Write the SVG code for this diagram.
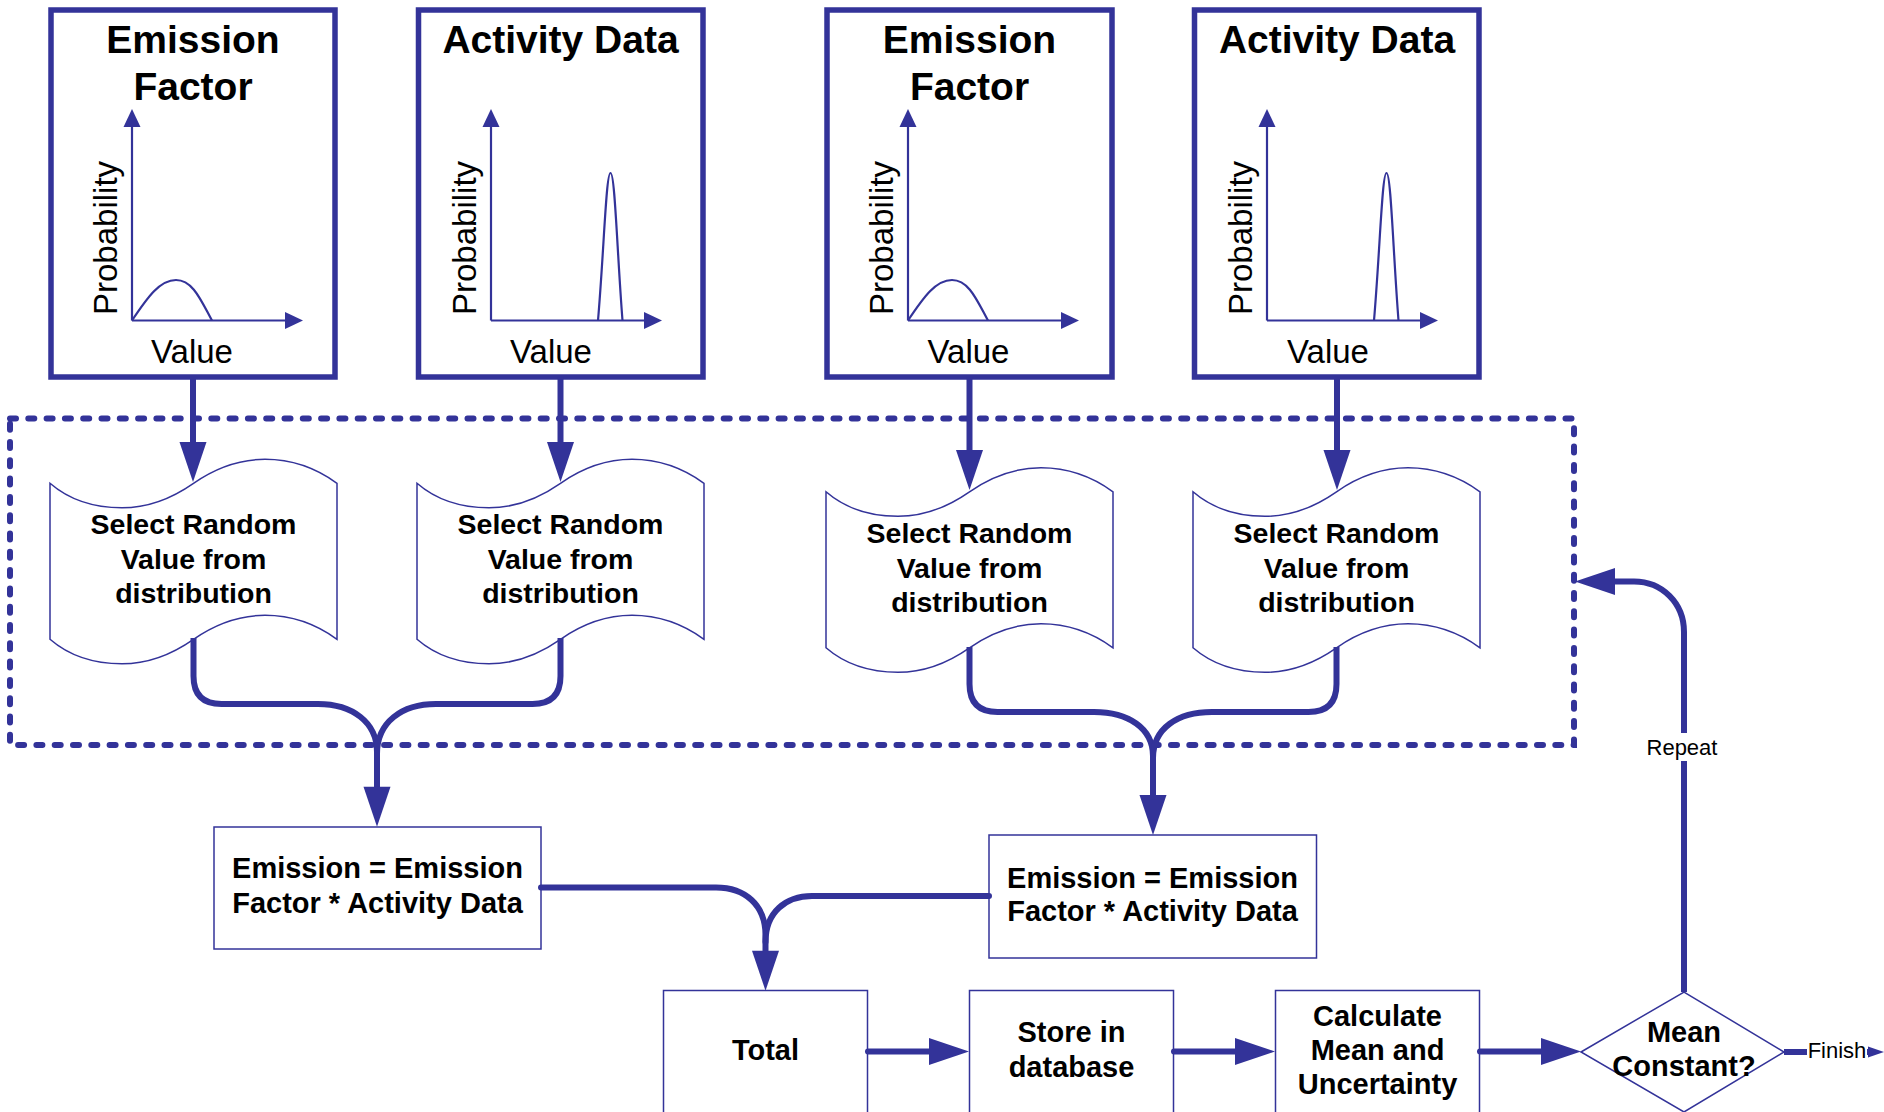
<svg xmlns="http://www.w3.org/2000/svg" xmlns:xlink="http://www.w3.org/1999/xlink" width="1884" height="1112" viewBox="0 0 1884 1112">
<style>
.frame{fill:#fff;stroke:#333399;stroke-width:5.5}
.box{fill:#fff;stroke:#333399;stroke-width:1.5}
.axis{fill:none;stroke:#333399;stroke-width:2.2}
.curve{fill:none;stroke:#333399;stroke-width:2.2}
.conn{fill:none;stroke:#333399;stroke-width:6}
.dash{fill:none;stroke:#333399;stroke-width:6;stroke-dasharray:6 12.3;stroke-linecap:round}
.title{font-family:"Liberation Sans",Arial,sans-serif;font-weight:bold;font-size:39px;text-anchor:middle;fill:#000}
.lbl{font-family:"Liberation Sans",Arial,sans-serif;font-weight:bold;font-size:29px;text-anchor:middle;fill:#000}
.doct{font-family:"Liberation Sans",Arial,sans-serif;font-weight:bold;font-size:28.5px;text-anchor:middle;fill:#000}
.ax{font-family:"Liberation Sans",Arial,sans-serif;font-size:33px;fill:#000}
.small{font-family:"Liberation Sans",Arial,sans-serif;font-size:22px;fill:#000}
</style>
<defs>
<marker id="big" markerUnits="userSpaceOnUse" markerWidth="40" markerHeight="27" refX="20" refY="13.5" orient="auto" overflow="visible">
<path d="M0,0 L40,13.5 L0,27 Z" fill="#333399"/>
</marker>
<marker id="axarr" markerUnits="userSpaceOnUse" markerWidth="18" markerHeight="17" refX="9" refY="8.5" orient="auto" overflow="visible">
<path d="M0,0 L18,8.5 L0,17 Z" fill="#333399"/>
</marker>
<marker id="tiny" markerUnits="userSpaceOnUse" markerWidth="16" markerHeight="11" refX="4" refY="5.5" orient="auto" overflow="visible">
<path d="M0,0 L16,5.5 L0,11 Z" fill="#333399"/>
</marker>
<path id="doc" d="M0,0 C22,19 48,24.5 72,24.5 C100,24.5 122,15 143.5,0 C165,-15 188,-24 215,-24 C240,-24 265,-16 287,0 V156 C265,140 240,132 215,132 C188,132 165,141 143.5,156 C122,171 100,180.5 72,180.5 C48,180.5 22,175 0,156 Z" fill="#fff" stroke="#333399" stroke-width="1.5"/>
<path id="bell" d="M0,0 C16,-24 28,-40.5 44,-40.5 C61,-40.5 69,-20 80,0" class="curve"/>
<path id="spike" d="M0,0 C6,-70 8,-147.5 12.5,-147.5 C17,-147.5 19,-70 24.5,0" class="curve"/>
</defs>
<rect x="0" y="0" width="1884" height="1112" fill="#fff"/>

<g id="loop-boundary">
<rect class="dash" x="10" y="418.5" width="1564" height="326.5"/>
</g>

<g id="ef1">
<rect class="frame" x="51" y="10" width="284" height="367"/>
<text class="title" x="193" y="53">Emission</text>
<text class="title" x="193" y="100">Factor</text>
<use xlink:href="#bell" x="132" y="320.5"/>
<path class="axis" d="M132,320.5 V118" marker-end="url(#axarr)"/>
<path class="axis" d="M132,320.5 H294" marker-end="url(#axarr)"/>
<text class="ax" transform="translate(117,315) rotate(-90)">Probability</text>
<text class="ax" x="192" y="363" text-anchor="middle">Value</text>
</g>

<g id="ad1">
<rect class="frame" x="418.5" y="10" width="284.5" height="367"/>
<text class="title" x="560.5" y="53">Activity Data</text>
<use xlink:href="#spike" x="598" y="320.5"/>
<path class="axis" d="M491,320.5 V118" marker-end="url(#axarr)"/>
<path class="axis" d="M491,320.5 H653" marker-end="url(#axarr)"/>
<text class="ax" transform="translate(476,315) rotate(-90)">Probability</text>
<text class="ax" x="551" y="363" text-anchor="middle">Value</text>
</g>

<g id="ef2">
<rect class="frame" x="827" y="10" width="285" height="367"/>
<text class="title" x="969.5" y="53">Emission</text>
<text class="title" x="969.5" y="100">Factor</text>
<use xlink:href="#bell" x="908" y="320.5"/>
<path class="axis" d="M908,320.5 V118" marker-end="url(#axarr)"/>
<path class="axis" d="M908,320.5 H1070" marker-end="url(#axarr)"/>
<text class="ax" transform="translate(893,315) rotate(-90)">Probability</text>
<text class="ax" x="968.5" y="363" text-anchor="middle">Value</text>
</g>

<g id="ad2">
<rect class="frame" x="1194.5" y="10" width="284.5" height="367"/>
<text class="title" x="1337" y="53">Activity Data</text>
<use xlink:href="#spike" x="1374" y="320.5"/>
<path class="axis" d="M1267,320.5 V118" marker-end="url(#axarr)"/>
<path class="axis" d="M1267,320.5 H1429" marker-end="url(#axarr)"/>
<text class="ax" transform="translate(1252,315) rotate(-90)">Probability</text>
<text class="ax" x="1328" y="363" text-anchor="middle">Value</text>
</g>

<g id="sel1">
<use xlink:href="#doc" x="50" y="483.3"/>
<text class="doct" x="193.5" y="534">Select Random</text>
<text class="doct" x="193.5" y="568.5">Value from</text>
<text class="doct" x="193.5" y="603">distribution</text>
</g>
<g id="sel2">
<use xlink:href="#doc" x="417" y="483.3"/>
<text class="doct" x="560.5" y="534">Select Random</text>
<text class="doct" x="560.5" y="568.5">Value from</text>
<text class="doct" x="560.5" y="603">distribution</text>
</g>
<g id="sel3">
<use xlink:href="#doc" x="826" y="491.8"/>
<text class="doct" x="969.5" y="543">Select Random</text>
<text class="doct" x="969.5" y="577.5">Value from</text>
<text class="doct" x="969.5" y="612">distribution</text>
</g>
<g id="sel4">
<use xlink:href="#doc" x="1193" y="491.8"/>
<text class="doct" x="1336.5" y="543">Select Random</text>
<text class="doct" x="1336.5" y="577.5">Value from</text>
<text class="doct" x="1336.5" y="612">distribution</text>
</g>

<g id="calc1">
<rect class="box" x="214" y="827" width="327" height="122"/>
<text class="lbl" x="377.5" y="878">Emission = Emission</text>
<text class="lbl" x="377.5" y="913">Factor * Activity Data</text>
</g>
<g id="calc2">
<rect class="box" x="989" y="835" width="327.5" height="123"/>
<text class="lbl" x="1152.5" y="887.5">Emission = Emission</text>
<text class="lbl" x="1152.5" y="921">Factor * Activity Data</text>
</g>

<g id="total">
<rect class="box" x="663.5" y="990.5" width="204" height="140"/>
<text class="lbl" x="765.5" y="1060">Total</text>
</g>
<g id="store">
<rect class="box" x="969.5" y="990.5" width="204" height="140"/>
<text class="lbl" x="1071.5" y="1042">Store in</text>
<text class="lbl" x="1071.5" y="1077">database</text>
</g>
<g id="stats">
<rect class="box" x="1275.5" y="990.5" width="204" height="140"/>
<text class="lbl" x="1377.5" y="1025.5">Calculate</text>
<text class="lbl" x="1377.5" y="1060">Mean and</text>
<text class="lbl" x="1377.5" y="1094">Uncertainty</text>
</g>
<g id="decision">
<path class="box" d="M1581,1052 L1684,992 L1784,1052 L1684,1112 Z"/>
<text class="lbl" x="1684" y="1042">Mean</text>
<text class="lbl" x="1684" y="1076">Constant?</text>
</g>

<g id="connectors">
<path class="conn" d="M193,377 V462" marker-end="url(#big)"/>
<path class="conn" d="M560.5,377 V462" marker-end="url(#big)"/>
<path class="conn" d="M969.5,377 V470" marker-end="url(#big)"/>
<path class="conn" d="M1337,377 V470" marker-end="url(#big)"/>

<path class="conn" d="M193.5,638 V676 Q193.5,704 221.5,704 H318 C352,704 377,722 377,752 V806.7" marker-end="url(#big)"/>
<path class="conn" d="M560.5,638 V676 Q560.5,704 532.5,704 H436 C402,704 377,722 377,754"/>

<path class="conn" d="M969.5,647 V684 Q969.5,712 997.5,712 H1094 C1128,712 1153,728 1153,756 V815" marker-end="url(#big)"/>
<path class="conn" d="M1336.5,647 V684 Q1336.5,712 1308.5,712 H1212 C1178,712 1153,728 1153,758"/>

<path class="conn" stroke-linecap="round" d="M541,887.5 H716 C745,887.5 765.5,905 765.5,935 V970.7" marker-end="url(#big)"/>
<path class="conn" stroke-linecap="round" d="M989,896 H812 C786,896 765.5,912 765.5,942"/>

<path class="conn" stroke-linecap="round" d="M868,1051.5 H949" marker-end="url(#big)"/>
<path class="conn" stroke-linecap="round" d="M1174,1051.5 H1255" marker-end="url(#big)"/>
<path class="conn" stroke-linecap="round" d="M1480,1051.5 H1561" marker-end="url(#big)"/>

<path class="conn" d="M1684,992 V632 C1684,603 1662,581.5 1634,581.5 H1595" marker-end="url(#big)"/>
<rect x="1643" y="733" width="80" height="28" fill="#fff"/>
<text class="small" x="1682" y="755" text-anchor="middle">Repeat</text>

<path class="conn" d="M1784,1052 H1872" marker-end="url(#tiny)"/>
<rect x="1807" y="1036" width="60" height="28" fill="#fff"/>
<text class="small" x="1837" y="1058" text-anchor="middle" font-size="21.5">Finish</text>
</g>
</svg>
